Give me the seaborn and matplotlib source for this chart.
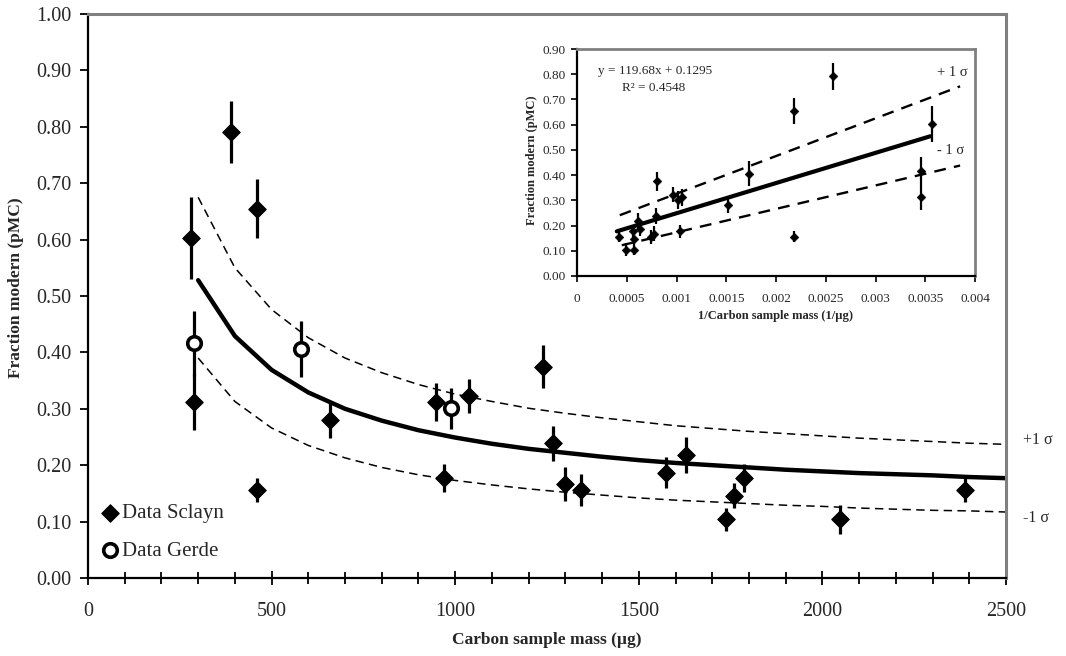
import numpy as np
import pandas as pd
import seaborn as sns
import matplotlib.pyplot as plt
from matplotlib.ticker import MultipleLocator, FormatStrFormatter, FuncFormatter

# data
sclayn_mass = [280, 289, 389, 459, 459, 659, 948, 969, 1038, 1238, 1267, 1298,
               1342, 1573, 1628, 1738, 1758, 1787, 2048, 2387]
sclayn_value = [0.603, 0.312, 0.791, 0.655, 0.156, 0.281, 0.312, 0.177, 0.323, 0.375, 0.239, 0.167,
                0.156, 0.187, 0.218, 0.104, 0.146, 0.177, 0.104, 0.156]
sclayn_err = [0.072, 0.050, 0.055, 0.052, 0.022, 0.033, 0.033, 0.025, 0.030, 0.038, 0.031, 0.030,
              0.028, 0.028, 0.032, 0.020, 0.022, 0.025, 0.026, 0.022]

gerde_mass = [289, 579, 989]
gerde_value = [0.416, 0.406, 0.301]
gerde_err = [0.057, 0.049, 0.036]

curve_mass = [300, 400, 500, 600, 700, 800, 900, 1000, 1100, 1200, 1300, 1400,
              1500, 1600, 1700, 1800, 1900, 2000, 2100, 2200, 2300, 2400, 2500]
fit_value = [0.528, 0.429, 0.369, 0.329, 0.300, 0.279, 0.262, 0.249, 0.238, 0.229, 0.222, 0.215,
             0.209, 0.204, 0.200, 0.196, 0.192, 0.189, 0.186, 0.184, 0.182, 0.179, 0.177]
upper_value = [0.675, 0.550, 0.476, 0.426, 0.390, 0.364, 0.343, 0.326, 0.313, 0.301, 0.292, 0.284,
               0.277, 0.270, 0.265, 0.260, 0.256, 0.252, 0.248, 0.245, 0.242, 0.239, 0.237]
lower_value = [0.390, 0.313, 0.266, 0.235, 0.213, 0.196, 0.183, 0.173, 0.165, 0.158, 0.152, 0.147,
               0.142, 0.138, 0.135, 0.132, 0.129, 0.127, 0.124, 0.122, 0.120, 0.119, 0.117]

# inset lines (1/mass axis)
inset_fit_x = [0.0004, 0.00355]
inset_fit_y = [0.177, 0.554]
inset_upper_x = [0.00043, 0.00385]
inset_upper_y = [0.241, 0.752]
inset_lower_x = [0.00045, 0.00385]
inset_lower_y = [0.122, 0.438]

sclayn = pd.DataFrame({'mass': sclayn_mass, 'value': sclayn_value, 'err': sclayn_err})
gerde = pd.DataFrame({'mass': gerde_mass, 'value': gerde_value, 'err': gerde_err})
curves = pd.DataFrame({'mass': curve_mass, 'fit': fit_value, 'upper': upper_value, 'lower': lower_value})
allpts = pd.concat([sclayn, gerde], ignore_index=True)
allpts['inv'] = 1.0 / allpts['mass']

sns.set_style('ticks')
plt.rcParams['font.family'] = ['Liberation Serif', 'DejaVu Serif']

W, H = 1066, 656
fig = plt.figure(figsize=(W / 100, H / 100), dpi=100)


def fx(x):
    return x / W


def fy(y):
    return 1 - y / H


ax = fig.add_axes([fx(88), fy(578), fx(1006) - fx(88), fy(14) - fy(578)])

sns.lineplot(data=curves, x='mass', y='upper', ax=ax, color='black', lw=1.1,
             linestyle=(0, (5.5, 3.5)), estimator=None, sort=False)
sns.lineplot(data=curves, x='mass', y='lower', ax=ax, color='black', lw=1.1,
             linestyle=(0, (5.5, 3.5)), estimator=None, sort=False)
sns.lineplot(data=curves, x='mass', y='fit', ax=ax, color='black', lw=3.2,
             estimator=None, sort=False)

ax.errorbar(sclayn['mass'], sclayn['value'], yerr=sclayn['err'], fmt='none',
            ecolor='black', elinewidth=2.3, capsize=0, zorder=4)
ax.errorbar(gerde['mass'], gerde['value'], yerr=gerde['err'], fmt='none',
            ecolor='black', elinewidth=2.3, capsize=0, zorder=4)
sns.scatterplot(data=sclayn, x='mass', y='value', ax=ax, marker='D', s=80,
                color='black', edgecolor='black', label='Data Sclayn', zorder=5)
sns.scatterplot(data=gerde, x='mass', y='value', ax=ax, marker='o', s=95,
                facecolor='white', edgecolor='black', linewidth=2.6,
                label='Data Gerde', zorder=5)

ax.set_xlim(0, 2500)
ax.set_ylim(0, 1.0)
ax.xaxis.set_major_locator(MultipleLocator(500))
ax.xaxis.set_minor_locator(MultipleLocator(100))
ax.yaxis.set_major_locator(MultipleLocator(0.1))
ax.yaxis.set_major_formatter(FormatStrFormatter('%.2f'))
ax.tick_params(axis='x', which='major', direction='inout', length=10, width=1.3,
               labelsize=14.5, pad=12, color='black')
ax.tick_params(axis='x', which='minor', direction='inout', length=8, width=1.3, color='black')
ax.tick_params(axis='y', which='major', direction='out', length=6, width=1.3,
               labelsize=14.5, pad=6, color='black')
ax.set_xlabel('')
ax.set_ylabel('')
for s in ['left', 'bottom']:
    ax.spines[s].set_color('black')
    ax.spines[s].set_linewidth(1.6)
for s in ['top', 'right']:
    ax.spines[s].set_visible(True)
    ax.spines[s].set_color('#808080')
    ax.spines[s].set_linewidth(2.2)

leg = ax.legend(loc='lower left', bbox_to_anchor=(-0.006, 0.005), frameon=False,
                fontsize=15, handletextpad=0.0, handlelength=1.2,
                labelspacing=0.85, borderaxespad=0.3)

fig.text(fx(547), fy(640), 'Carbon sample mass (µg)', ha='center', va='center',
         fontsize=12.5, fontweight='bold')
fig.text(fx(16), fy(288), 'Fraction modern (pMC)', ha='center', va='center',
         rotation=90, fontsize=12.5, fontweight='bold')
fig.text(fx(1023), fy(440), '+1 σ', ha='left', va='center', fontsize=11.5)
fig.text(fx(1023), fy(518), '-1 σ', ha='left', va='center', fontsize=11.5)

# inset: fraction modern vs 1/mass
axin = fig.add_axes([fx(577), fy(276), fx(975) - fx(577), fy(49) - fy(276)])
axin.set_facecolor('white')
sns.lineplot(x=inset_upper_x, y=inset_upper_y, ax=axin, color='black', lw=1.7,
             linestyle=(0, (5, 3.5)))
sns.lineplot(x=inset_lower_x, y=inset_lower_y, ax=axin, color='black', lw=1.7,
             linestyle=(0, (5, 3.5)))
sns.lineplot(x=inset_fit_x, y=inset_fit_y, ax=axin, color='black', lw=3.0)
axin.errorbar(allpts['inv'], allpts['value'], yerr=allpts['err'], fmt='none',
              ecolor='black', elinewidth=1.6, capsize=0, zorder=4)
sns.scatterplot(data=allpts, x='inv', y='value', ax=axin, marker='D', s=20,
                color='black', edgecolor='black', zorder=5)
axin.set_xlim(0, 0.004)
axin.set_ylim(0, 0.9)
axin.xaxis.set_major_locator(MultipleLocator(0.0005))
axin.xaxis.set_major_formatter(FuncFormatter(lambda v, p: '%g' % round(v, 6)))
axin.yaxis.set_major_locator(MultipleLocator(0.1))
axin.yaxis.set_major_formatter(FormatStrFormatter('%.2f'))
axin.tick_params(axis='both', direction='out', length=4, width=1.2,
                 labelsize=9.5, pad=4, color='black')
axin.tick_params(axis='x', pad=8)
axin.set_xlabel('')
axin.set_ylabel('')
for s in ['left', 'bottom']:
    axin.spines[s].set_color('black')
    axin.spines[s].set_linewidth(1.6)
for s in ['top', 'right']:
    axin.spines[s].set_visible(True)
    axin.spines[s].set_color('#808080')
    axin.spines[s].set_linewidth(2.0)

fig.text(fx(655), fy(71), 'y = 119.68x + 0.1295', ha='center', va='center', fontsize=9.5)
fig.text(fx(654), fy(88), 'R² = 0.4548', ha='center', va='center', fontsize=9.5)
fig.text(fx(952), fy(72), '+ 1 σ', ha='center', va='center', fontsize=10.5)
fig.text(fx(951), fy(150), '- 1 σ', ha='center', va='center', fontsize=10.5)
fig.text(fx(776), fy(316), '1/Carbon sample mass (1/µg)', ha='center', va='center',
         fontsize=9, fontweight='bold')
fig.text(fx(532), fy(160), 'Fraction modern (pMC)', ha='center', va='center',
         rotation=90, fontsize=9, fontweight='bold')

fig.savefig('out.png', dpi=100, facecolor='white')
